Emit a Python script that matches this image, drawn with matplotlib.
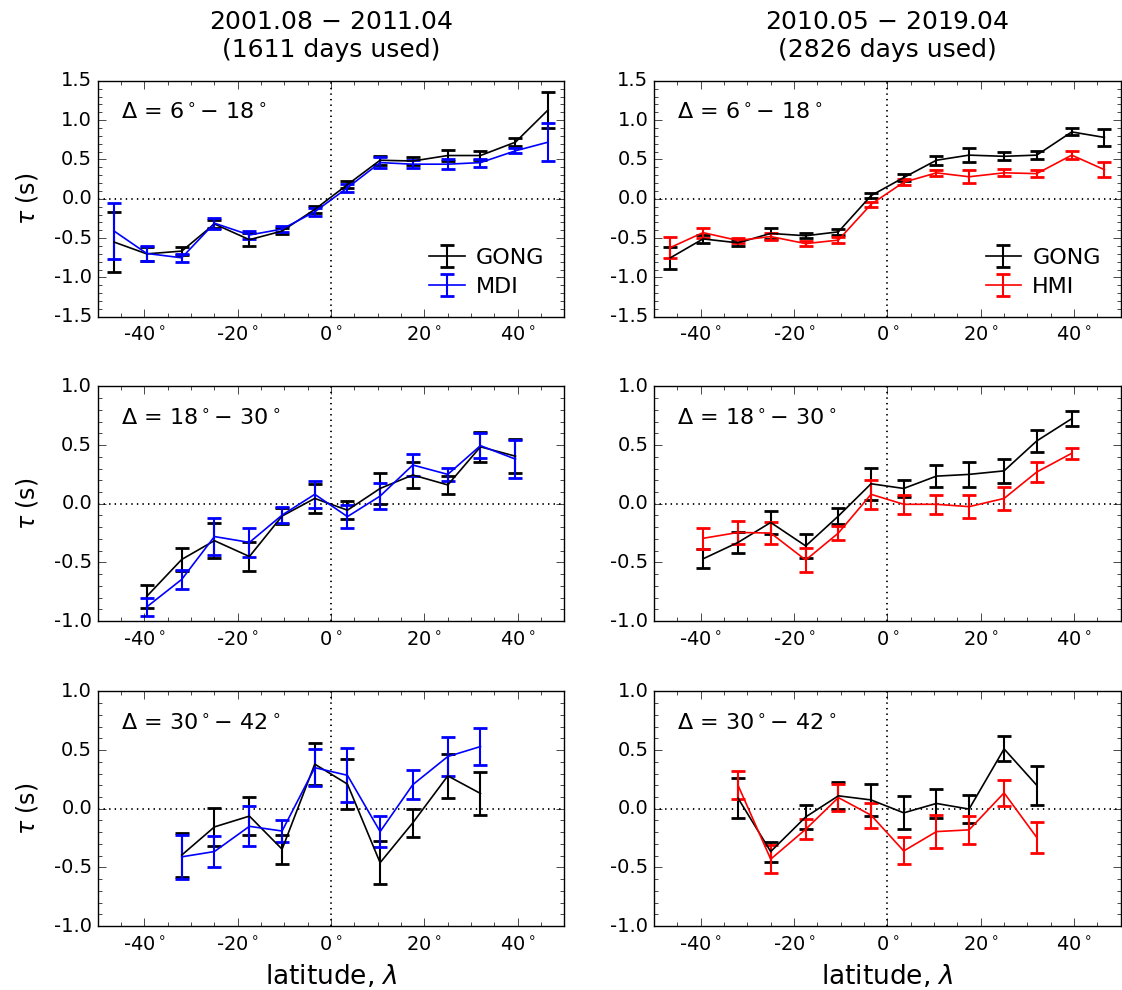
import matplotlib
matplotlib.use('Agg')
import matplotlib.pyplot as plt
from matplotlib.ticker import MultipleLocator

plt.style.use('classic')
plt.rcParams['font.family'] = ['DejaVu Sans']
plt.rcParams['mathtext.fontset'] = 'dejavusans'
plt.rcParams['axes.unicode_minus'] = False

# latitudes of the bins (deg)
lat = [-46.5, -39.5, -32, -25, -17.5, -10.5, -3.5, 3.5, 10.5, 17.5, 25, 32, 39.5, 46.5]
lat_mid = lat[1:13]
lat_low = lat[2:12]

col_titles = ['2001.08 $-$ 2011.04\n(1611 days used)', '2010.05 $-$ 2019.04\n(2826 days used)']
row_labels = [r'$\Delta$ = 6$^\circ$$-$ 18$^\circ$', r'$\Delta$ = 18$^\circ$$-$ 30$^\circ$', r'$\Delta$ = 30$^\circ$$-$ 42$^\circ$']
xtick_vals = [-40, -20, 0, 20, 40]
xtick_labels = ['-40$^\\circ$', '-20$^\\circ$', '0$^\\circ$', '20$^\\circ$', '40$^\\circ$']

# row 1, delta 6-18
gong_a1 = [-0.55, -0.70, -0.665, -0.32, -0.52, -0.41, -0.135, 0.18, 0.49, 0.48, 0.55, 0.55, 0.72, 1.13]
gong_a1_err = [0.38, 0.09, 0.055, 0.05, 0.08, 0.04, 0.04, 0.04, 0.06, 0.055, 0.07, 0.055, 0.05, 0.23]
mdi_1 = [-0.41, -0.695, -0.75, -0.31, -0.46, -0.385, -0.165, 0.14, 0.46, 0.44, 0.44, 0.46, 0.61, 0.72]
mdi_1_err = [0.36, 0.095, 0.05, 0.07, 0.055, 0.04, 0.05, 0.05, 0.07, 0.05, 0.065, 0.05, 0.03, 0.24]
gong_b1 = [-0.75, -0.51, -0.56, -0.44, -0.47, -0.42, 0.04, 0.27, 0.49, 0.555, 0.54, 0.555, 0.85, 0.78]
gong_b1_err = [0.14, 0.05, 0.04, 0.065, 0.03, 0.04, 0.03, 0.04, 0.055, 0.085, 0.05, 0.05, 0.045, 0.11]
hmi_1 = [-0.62, -0.43, -0.53, -0.48, -0.57, -0.525, -0.07, 0.21, 0.33, 0.28, 0.33, 0.32, 0.555, 0.37]
hmi_1_err = [0.135, 0.065, 0.03, 0.04, 0.035, 0.04, 0.035, 0.04, 0.04, 0.08, 0.045, 0.045, 0.055, 0.095]

# row 2, delta 18-30
gong_a2 = [-0.79, -0.475, -0.315, -0.45, -0.105, 0.045, -0.055, 0.13, 0.245, 0.16, 0.485, 0.405]
gong_a2_err = [0.1, 0.1, 0.15, 0.12, 0.065, 0.125, 0.075, 0.13, 0.11, 0.08, 0.13, 0.145]
mdi_2 = [-0.88, -0.645, -0.28, -0.33, -0.097, 0.08, -0.11, 0.065, 0.33, 0.25, 0.495, 0.38]
mdi_2_err = [0.08, 0.08, 0.155, 0.125, 0.065, 0.115, 0.095, 0.11, 0.095, 0.057, 0.107, 0.16]
gong_b2 = [-0.47, -0.33, -0.16, -0.36, -0.105, 0.17, 0.13, 0.235, 0.25, 0.28, 0.535, 0.725]
gong_b2_err = [0.08, 0.09, 0.1, 0.105, 0.065, 0.135, 0.075, 0.095, 0.105, 0.1, 0.09, 0.065]
hmi_2 = [-0.295, -0.245, -0.25, -0.48, -0.25, 0.08, -0.005, -0.005, -0.025, 0.045, 0.27, 0.43]
hmi_2_err = [0.09, 0.095, 0.09, 0.105, 0.06, 0.125, 0.08, 0.08, 0.1, 0.1, 0.082, 0.048]

# row 3, delta 30-42
gong_a3 = [-0.395, -0.155, -0.063, -0.345, 0.38, 0.21, -0.46, -0.12, 0.28, 0.13]
gong_a3_err = [0.185, 0.165, 0.165, 0.125, 0.18, 0.21, 0.185, 0.12, 0.19, 0.185]
mdi_3 = [-0.41, -0.365, -0.15, -0.19, 0.35, 0.285, -0.195, 0.205, 0.445, 0.53]
mdi_3_err = [0.19, 0.13, 0.17, 0.09, 0.155, 0.23, 0.13, 0.125, 0.165, 0.16]
gong_b3 = [0.09, -0.365, -0.07, 0.11, 0.075, -0.035, 0.045, -0.003, 0.51, 0.2]
gong_b3_err = [0.17, 0.085, 0.1, 0.115, 0.135, 0.14, 0.12, 0.12, 0.107, 0.165]
hmi_3 = [0.2, -0.43, -0.175, 0.095, -0.055, -0.36, -0.195, -0.18, 0.135, -0.245]
hmi_3_err = [0.12, 0.12, 0.085, 0.115, 0.105, 0.115, 0.14, 0.12, 0.11, 0.13]

panels = [
    [(lat, gong_a1, gong_a1_err, mdi_1, mdi_1_err, 'MDI', 'b'),
     (lat, gong_b1, gong_b1_err, hmi_1, hmi_1_err, 'HMI', 'r')],
    [(lat_mid, gong_a2, gong_a2_err, mdi_2, mdi_2_err, 'MDI', 'b'),
     (lat_mid, gong_b2, gong_b2_err, hmi_2, hmi_2_err, 'HMI', 'r')],
    [(lat_low, gong_a3, gong_a3_err, mdi_3, mdi_3_err, 'MDI', 'b'),
     (lat_low, gong_b3, gong_b3_err, hmi_3, hmi_3_err, 'HMI', 'r')],
]

fig = plt.figure(figsize=(11.22, 9.9), dpi=100, facecolor='white')

lefts = [0.0871, 0.5829]
width = 0.416
bottoms = [0.680, 0.3727, 0.0646]
heights = [0.2384, 0.237, 0.237]

for r in range(3):
    for c in range(2):
        x, g, ge, o, oe, name, color = panels[r][c]
        ax = fig.add_axes([lefts[c], bottoms[r], width, heights[r]])
        ax.axhline(0, color='k', ls=':', lw=1.3)
        ax.axvline(0, color='k', ls=':', lw=1.3)
        ax.errorbar(x, g, yerr=ge, color='k', lw=1.2, elinewidth=1.5,
                    capsize=5, capthick=2, label='GONG')
        ax.errorbar(x, o, yerr=oe, color=color, lw=1.2, elinewidth=1.5,
                    capsize=5, capthick=2, label=name)
        ax.set_xlim(-50, 50)
        ax.set_xticks(xtick_vals)
        ax.set_xticklabels(xtick_labels)
        ax.xaxis.set_minor_locator(MultipleLocator(5))
        if r == 0:
            ax.set_ylim(-1.5, 1.5)
        else:
            ax.set_ylim(-1.0, 1.0)
        ax.yaxis.set_major_locator(MultipleLocator(0.5))
        ax.yaxis.set_minor_locator(MultipleLocator(0.1))
        ax.tick_params(which='both', direction='in', top=True, right=True, labelsize=14)
        ax.tick_params(which='major', length=6)
        ax.tick_params(which='minor', length=3)
        ax.tick_params(axis='x', pad=7)
        ax.text(0.05, 0.865, row_labels[r], transform=ax.transAxes,
                fontsize=16, va='center', ha='left')
        if c == 0:
            ax.set_ylabel(r'$\tau$ (s)', fontsize=17, labelpad=10)
        if r == 0:
            ax.set_title(col_titles[c], fontsize=18, pad=17)
            ax.legend(loc='lower right', frameon=False, fontsize=16,
                      numpoints=1, handlelength=1.6, handletextpad=0.5,
                      labelspacing=0.4, borderaxespad=0.5)
        if r == 2:
            ax.set_xlabel(r'latitude, $\lambda$', fontsize=19, labelpad=6)

fig.savefig('out.png', dpi=100, facecolor='white')
